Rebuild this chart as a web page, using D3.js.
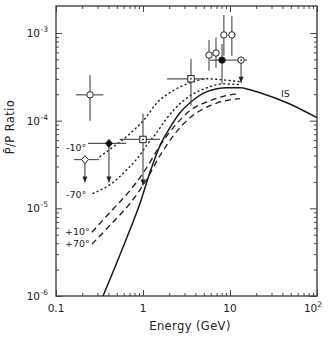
<!DOCTYPE html>
<html>
<head>
<meta charset="utf-8">
<script src="https://cdn.jsdelivr.net/npm/d3@7"></script>
<style>
  body { margin: 0; background: #fff; }
  text { font-family: "DejaVu Sans", sans-serif; fill: #222; }
</style>
</head>
<body>
<div id="chart"></div>
<script>
// energy (GeV) and pbar/p ratio for the curves
var isE = [0.347, 0.477, 0.655, 0.924, 1.20, 1.57, 2.04, 2.66, 3.47, 5.44, 9.24, 13.0, 17.0, 22.1, 45.2, 100];
var isR = [1e-6, 2.14e-6, 4.68e-6, 1.14e-5, 2.56e-5, 5.20e-5, 8.31e-5, 1.23e-4, 1.60e-4, 2.14e-4, 2.37e-4, 2.37e-4, 2.25e-4, 2.08e-4, 1.60e-4, 1.08e-4];

var p10E = [0.259, 0.418, 0.709, 1.05, 1.57, 2.33, 3.47, 5.89, 10, 13.0];
var p10R = [5.34e-6, 9.0e-6, 1.60e-5, 2.70e-5, 5.20e-5, 8.77e-5, 1.30e-4, 1.69e-4, 1.97e-4, 2.03e-4];

var p70E = [0.259, 0.418, 0.709, 1.05, 1.57, 2.33, 3.47, 5.89, 10, 13.0];
var p70R = [3.90e-6, 6.41e-6, 1.14e-5, 1.97e-5, 4.00e-5, 7.11e-5, 1.08e-4, 1.48e-4, 1.73e-4, 1.78e-4];

var m10E = [0.320, 0.477, 0.709, 1.05, 1.45, 2.21, 3.47, 5.44, 8.31, 13.0];
var m10R = [3.90e-5, 5.20e-5, 7.11e-5, 1.05e-4, 1.60e-4, 2.19e-4, 2.70e-4, 3.00e-4, 2.92e-4, 2.78e-4];

var m70E = [0.266, 0.452, 0.638, 0.876, 1.14, 1.41, 1.79, 2.33, 3.47, 5.44, 8.31, 13.0];
var m70R = [1.48e-5, 1.97e-5, 2.70e-5, 3.80e-5, 5.48e-5, 7.11e-5, 1.00e-4, 1.37e-4, 1.92e-4, 2.37e-4, 2.63e-4, 2.57e-4];

// measurements
var ptE    = [0.246, 0.215, 0.406, 1.0, 3.56, 5.74, 6.9, 8.5, 10.5, 8.1, 13.4];
var ptR    = [1.97e-4, 3.6e-5, 5.5e-5, 6.1e-5, 3.0e-4, 5.6e-4, 5.9e-4, 9.5e-4, 9.5e-4, 4.9e-4, 4.9e-4];
var ptELo  = [0.17, 0.161, 0.233, 0.54, 1.89, null, null, null, null, 5.9, 12.8];
var ptEHi  = [0.35, 0.312, 0.64, 1.57, 5.16, null, null, null, null, 12.8, 15.7];
var ptRLo  = [1.0e-4, 1.97e-5, 1.97e-5, 1.82e-5, 1.48e-4, 3.7e-4, 4.0e-4, 5.5e-4, 5.5e-4, 2.63e-4, 2.7e-4];
var ptRHi  = [3.3e-4, null, null, 1.2e-4, 5.07e-4, 8.3e-4, 8.9e-4, 1.6e-3, 1.55e-3, 7.5e-4, null];
var ptMark = ["circle", "diamond", "diamondFilled", "squareDot", "squareDot", "circle", "circle", "circle", "circle", "circleFilled", "circleDot"];
var ptLimit = [false, true, true, true, false, false, false, false, false, false, true];

var xMajor = [0.1, 1, 10, 100];
var xLabels = ["0.1", "1", "10", "10"];
var xSup = ["", "", "", "2"];
var yMajor = [1e-6, 1e-5, 1e-4, 1e-3];
var ySup = ["-6", "-5", "-4", "-3"];

var W = 332, H = 337;
var pLeft = 56, pRight = 317, pTop = 6, pBottom = 296;

var svg = d3.select("#chart").append("svg")
  .attr("width", W).attr("height", H);

var x = d3.scaleLog().domain([0.1, 100]).range([pLeft, pRight]);
var y = d3.scaleLog().domain([1e-6, 2.03e-3]).range([pBottom, pTop]);

var frame = "#444";

function minors(lo, hi) {
  var out = [];
  for (var d = lo; d < hi * 0.99; d *= 10) {
    for (var k = 2; k <= 9; k++) out.push(d * k);
  }
  return out;
}
var xMinor = minors(0.1, 100);
var yMinor = minors(1e-6, 1e-3);

// ticks, inward on all four sides
function drawAxis(gen, tx, ty) {
  var g = svg.append("g").attr("transform", "translate(" + tx + "," + ty + ")").call(gen);
  g.selectAll("text").remove();
  g.select(".domain").remove();
  g.selectAll("line").attr("stroke", frame).attr("stroke-width", 1);
}
drawAxis(d3.axisBottom(x).tickValues(xMajor).tickSize(-6), 0, pBottom);
drawAxis(d3.axisBottom(x).tickValues(xMinor).tickSize(-3), 0, pBottom);
drawAxis(d3.axisTop(x).tickValues(xMajor).tickSize(-6), 0, pTop);
drawAxis(d3.axisTop(x).tickValues(xMinor).tickSize(-3), 0, pTop);
drawAxis(d3.axisLeft(y).tickValues(yMajor).tickSize(-6), pLeft, 0);
drawAxis(d3.axisLeft(y).tickValues(yMinor).tickSize(-3), pLeft, 0);
drawAxis(d3.axisRight(y).tickValues(yMajor).tickSize(-7), pRight, 0);
drawAxis(d3.axisRight(y).tickValues(yMinor).tickSize(-3), pRight, 0);

svg.append("rect")
  .attr("x", pLeft).attr("y", pTop)
  .attr("width", pRight - pLeft).attr("height", pBottom - pTop)
  .attr("fill", "none").attr("stroke", frame).attr("stroke-width", 1.4);

// tick labels
xMajor.forEach(function(v, i) {
  var t = svg.append("text")
    .attr("x", x(v) + (xSup[i] ? -4 : 0))
    .attr("y", 312)
    .attr("text-anchor", "middle")
    .style("font-size", "10.5px")
    .text(xLabels[i]);
  if (xSup[i]) {
    t.append("tspan").attr("dy", -5).style("font-size", "7.5px").text(xSup[i]);
  }
});
yMajor.forEach(function(v, i) {
  svg.append("text")
    .attr("x", 40).attr("y", y(v) + 4)
    .attr("text-anchor", "end")
    .style("font-size", "10.5px")
    .text("10");
  svg.append("text")
    .attr("x", 40.5).attr("y", y(v) - 1)
    .style("font-size", "7.5px")
    .text(ySup[i]);
});

svg.append("text")
  .attr("x", 190).attr("y", 330)
  .attr("text-anchor", "middle")
  .style("font-size", "11.5px")
  .style("letter-spacing", "0.4px")
  .text("Energy (GeV)");

svg.append("text")
  .attr("transform", "translate(14,127) rotate(-90)")
  .attr("text-anchor", "middle")
  .style("font-size", "11.5px")
  .style("letter-spacing", "0.4px")
  .text("P\u0304/P Ratio");

// curves
var line = d3.line()
  .x(function(d) { return x(d[0]); })
  .y(function(d) { return y(d[1]); })
  .curve(d3.curveMonotoneX);

function curve(es, rs, dash, w) {
  svg.append("path")
    .datum(es.map(function(e, i) { return [e, rs[i]]; }))
    .attr("d", line)
    .attr("fill", "none")
    .attr("stroke", "#1a1a1a")
    .attr("stroke-width", w)
    .attr("stroke-dasharray", dash)
    .attr("stroke-linecap", dash === "1,3.5" ? "round" : "butt");
}
curve(m10E, m10R, "1,3.5", 1.4);
curve(m70E, m70R, "1,3.5", 1.4);
curve(p10E, p10R, "6,4", 1.3);
curve(p70E, p70R, "6,4", 1.3);
curve(isE, isR, null, 1.5);

// curve labels
var labels = [["-10\u00b0", 66, 151], ["-70\u00b0", 66, 198], ["+10\u00b0", 65, 235], ["+70\u00b0", 65, 247], ["IS", 281, 97]];
labels.forEach(function(l) {
  svg.append("text").attr("x", l[1]).attr("y", l[2])
    .style("font-size", "9.5px").text(l[0]);
});

// error bars and limits
var barColor = "#555";
ptE.forEach(function(e, i) {
  var cx = x(e), cy = y(ptR[i]);
  if (ptELo[i] != null) {
    svg.append("line")
      .attr("x1", x(ptELo[i])).attr("x2", x(ptEHi[i]))
      .attr("y1", cy).attr("y2", cy)
      .attr("stroke", barColor).attr("stroke-width", 1.2);
  }
  var yTop = ptRHi[i] != null ? y(ptRHi[i]) : cy;
  var yBot = y(ptRLo[i]);
  svg.append("line")
    .attr("x1", cx).attr("x2", cx)
    .attr("y1", yTop).attr("y2", yBot)
    .attr("stroke", barColor).attr("stroke-width", 1.2);
  if (ptLimit[i]) {
    svg.append("path")
      .attr("d", "M" + (cx - 2.5) + "," + (yBot - 6) + "L" + (cx + 2.5) + "," + (yBot - 6) + "L" + cx + "," + yBot + "Z")
      .attr("fill", "#222");
  }
});

// markers
ptE.forEach(function(e, i) {
  var cx = x(e), cy = y(ptR[i]), m = ptMark[i];
  var filled = m.indexOf("Filled") >= 0;
  if (m.indexOf("circle") === 0) {
    svg.append("circle").attr("cx", cx).attr("cy", cy).attr("r", 3.2)
      .attr("fill", filled ? "#111" : "#fff").attr("stroke", "#222").attr("stroke-width", 1);
  } else if (m.indexOf("diamond") === 0) {
    svg.append("path")
      .attr("d", "M" + cx + "," + (cy - 4) + "L" + (cx + 3.5) + "," + cy + "L" + cx + "," + (cy + 4) + "L" + (cx - 3.5) + "," + cy + "Z")
      .attr("fill", filled ? "#111" : "#fff").attr("stroke", "#222").attr("stroke-width", 1);
  } else {
    svg.append("rect").attr("x", cx - 3.2).attr("y", cy - 3.2).attr("width", 6.4).attr("height", 6.4)
      .attr("fill", "#fff").attr("stroke", "#222").attr("stroke-width", 1);
  }
  if (m.indexOf("Dot") >= 0) {
    svg.append("circle").attr("cx", cx).attr("cy", cy).attr("r", 0.9).attr("fill", "#222");
  }
});
</script>
</body>
</html>
